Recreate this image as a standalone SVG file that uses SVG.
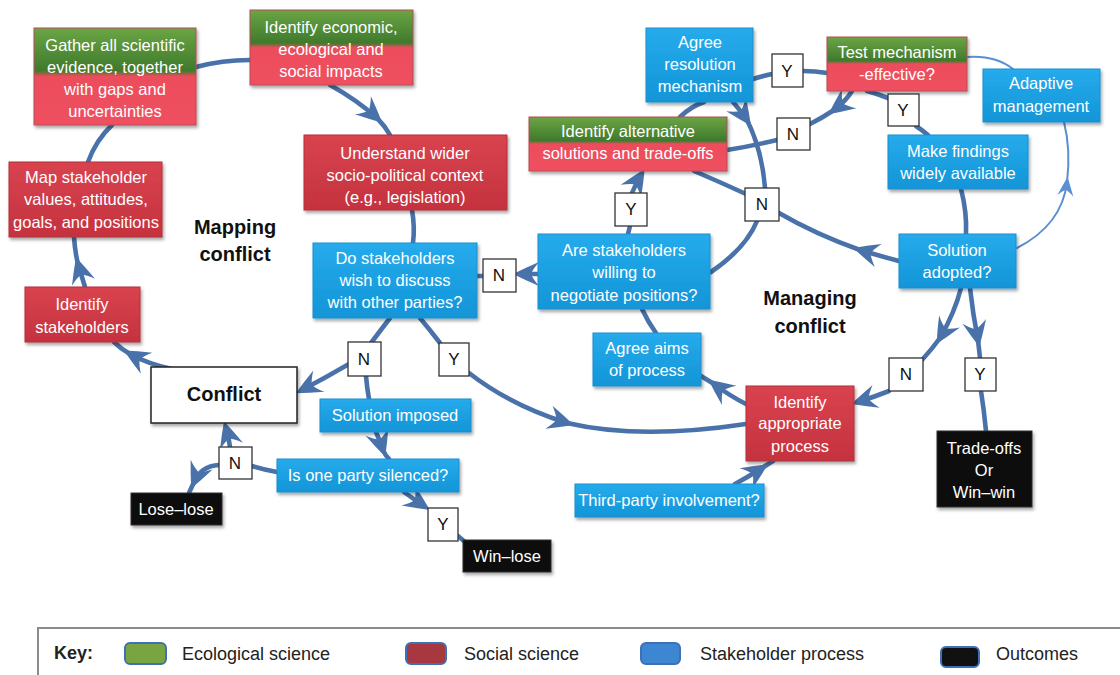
<svg xmlns="http://www.w3.org/2000/svg" width="1120" height="675" viewBox="0 0 1120 675">
<defs>
<style>
.c{fill:none;stroke:#4a72aa;stroke-width:4.6;stroke-linecap:round}
.a{marker-end:url(#ah)}
.th{fill:none;stroke:#5b8ed2;stroke-width:2;stroke-linecap:round}
.ta{marker-end:url(#ahs)}
.nt{font-family:"Liberation Sans",Arial,sans-serif;font-size:16.5px;fill:#fff;text-anchor:middle}
.bl{fill:url(#gBlue);stroke:#1a8fd0;stroke-width:1;filter:url(#sh)}
.rd{fill:url(#gRed);stroke:#b52f3b;stroke-width:1;filter:url(#sh)}
.mx{fill:url(#gMix);stroke:#b84a52;stroke-width:1;filter:url(#sh)}
.bk{fill:#0b0b0b;stroke:#333;stroke-width:1;filter:url(#sh)}
.yn rect{fill:#fff;stroke:#333;stroke-width:1.3}
.yn text{font-family:"Liberation Sans",Arial,sans-serif;font-size:17px;fill:#111;text-anchor:middle}
.lbl{font-family:"Liberation Sans",Arial,sans-serif;font-size:20px;font-weight:bold;fill:#111;text-anchor:middle}
.key{font-family:"Liberation Sans",Arial,sans-serif;font-size:18px;fill:#222}
.sw{stroke:#3f6fb5;stroke-width:2}
</style>
<linearGradient id="gBlue" x1="0" y1="0" x2="0" y2="1"><stop offset="0" stop-color="#26abec"/><stop offset="1" stop-color="#1295d7"/></linearGradient>
<linearGradient id="gRed" x1="0" y1="0" x2="0" y2="1"><stop offset="0" stop-color="#d9434f"/><stop offset="1" stop-color="#c4323e"/></linearGradient>
<linearGradient id="gMix" x1="0" y1="0" x2="0" y2="1"><stop offset="0" stop-color="#6ba545"/><stop offset="0.44" stop-color="#3f7a2c"/><stop offset="0.5" stop-color="#ec4d5b"/><stop offset="1" stop-color="#ef5060"/></linearGradient>
<filter id="sh" x="-10%" y="-10%" width="130%" height="145%"><feDropShadow dx="1.5" dy="2.5" stdDeviation="1.8" flood-color="#000" flood-opacity="0.35"/></filter>
<marker id="ah" viewBox="-22 -13 30 26" refX="0" refY="0" markerWidth="30" markerHeight="26" markerUnits="userSpaceOnUse" orient="auto"><path d="M7 0 Q-5 -6 -19 -12 Q-13 -5 -11 0 Q-13 5 -19 12 Q-5 6 7 0 Z" fill="#4a72aa"/></marker>
<marker id="ahs" viewBox="-16 -9 22 18" refX="0" refY="0" markerWidth="22" markerHeight="18" markerUnits="userSpaceOnUse" orient="auto"><path d="M5 0 Q-4 -4 -14 -8 Q-9 -3 -8 0 Q-9 3 -14 8 Q-4 4 5 0 Z" fill="#5b8ed2"/></marker>
</defs>
<rect width="1120" height="675" fill="#fff"/>

<g id="connectors">
<path class="c a" d="M172 369 Q148 364 130 354"/>
<path class="c" d="M130 354 Q121 349 114 342"/>
<path class="c a" d="M85 287 Q81 274 78 264"/>
<path class="c" d="M78 264 Q75 252 74 237"/>
<path class="c" d="M88 162 Q96 140 112 125"/>
<path class="c" d="M196 67 Q222 60 250 60"/>
<path class="c a" d="M330 85 Q357 100 377 118"/>
<path class="c" d="M377 118 Q385 126 390 135"/>
<path class="c" d="M412 210 Q415 227 413 243"/>
<path class="c" d="M390 318 Q380 331 371 343"/>
<path class="c a" d="M349 364 Q325 378 302 390"/>
<path class="c" d="M366 376 Q367 388 369 399"/>
<path class="c a" d="M376 432 Q380 441 383 450"/>
<path class="c" d="M383 450 Q385 455 389 459"/>
<path class="c" d="M277 472 Q265 470 252 466"/>
<path class="c a" d="M230 447 Q229 438 226 428"/>
<path class="c a" d="M219 465 Q201 466 194 482"/>
<path class="c" d="M194 482 L189 493"/>
<path class="c a" d="M404 492 Q415 500 424 506"/>
<path class="c" d="M458 536 L465 542"/>
<path class="c" d="M420 318 Q430 330 440 343"/>
<path class="c a" d="M469 373 Q510 405 567 423"/>
<path class="c" d="M567 423 Q640 440 746 424"/>
<path class="c a" d="M538 274 L520 274"/>
<path class="c" d="M477 276 L483 276"/>
<path class="c" d="M628 234 L630 226"/>
<path class="c a" d="M632 193 Q636 183 641 175"/>
<path class="c" d="M680 117 Q690 107 704 102"/>
<path class="c" d="M753 79 Q762 76 772 74"/>
<path class="c" d="M803 71 Q815 71 827 73"/>
<path class="c" d="M867 91 Q878 94 888 98"/>
<path class="c" d="M916 126 Q922 130 928 135"/>
<path class="c a" d="M852 91 Q846 101 834 110"/>
<path class="c" d="M834 110 Q822 118 810 124"/>
<path class="c" d="M777 140 Q752 146 727 150"/>
<path class="c a" d="M733 102 Q740 110 747 120"/>
<path class="c" d="M747 120 Q762 150 765 188"/>
<path class="c" d="M757 221 Q746 248 711 272"/>
<path class="c a" d="M899 261 Q880 256 860 250"/>
<path class="c" d="M860 250 Q815 234 779 213"/>
<path class="c" d="M746 194 Q720 182 694 171"/>
<path class="c" d="M642 309 Q648 322 656 333"/>
<path class="c a" d="M746 404 Q730 396 714 384"/>
<path class="c" d="M714 384 L701 376"/>
<path class="c a" d="M961 288 Q955 312 940 338"/>
<path class="c" d="M940 338 Q932 349 922 360"/>
<path class="c a" d="M889 391 Q874 397 858 402"/>
<path class="c a" d="M970 288 Q973 315 978 340"/>
<path class="c" d="M978 340 L980 358"/>
<path class="c" d="M981 391 Q984 410 986 431"/>
<path class="c" d="M961 189 Q967 212 966 234"/>
<path class="c a" d="M735 484 Q748 477 762 468"/>
<path class="c" d="M762 468 L773 461"/>
<path class="th ta" d="M1017 248 Q1062 225 1067 182"/>
<path class="th" d="M1067 182 Q1071 150 1064 122"/>
<path class="th" d="M1013 69 Q995 55 967 57"/>
</g>

<g id="n-gather"><rect class="mx" x="34" y="28" width="162" height="97"/>
<text class="nt" x="115" y="51">Gather all scientific</text><text class="nt" x="115" y="73">evidence, together</text><text class="nt" x="115" y="95">with gaps and</text><text class="nt" x="115" y="117">uncertainties</text></g>
<g id="n-impacts"><rect class="mx" x="250" y="10" width="163" height="75"/>
<text class="nt" x="331" y="33">Identify economic,</text><text class="nt" x="331" y="55">ecological and</text><text class="nt" x="331" y="77">social impacts</text></g>
<g id="n-context"><rect class="rd" x="304" y="135" width="203" height="75"/>
<text class="nt" x="405" y="159">Understand wider</text><text class="nt" x="405" y="181">socio-political context</text><text class="nt" x="405" y="203">(e.g., legislation)</text></g>
<g id="n-map"><rect class="rd" x="9" y="162" width="153" height="75"/>
<text class="nt" x="86" y="183">Map stakeholder</text><text class="nt" x="86" y="205">values, attitudes,</text><text class="nt" x="86" y="228">goals, and positions</text></g>
<g id="n-idstake"><rect class="rd" x="25" y="287" width="115" height="55"/>
<text class="nt" x="82" y="310">Identify</text><text class="nt" x="82" y="333">stakeholders</text></g>
<g id="n-conflict"><rect x="151" y="367" width="146" height="56" fill="#fff" stroke="#222" stroke-width="1.5" filter="url(#sh)"/>
<text class="lbl" x="224" y="401" font-size="21">Conflict</text></g>
<g id="n-discuss"><rect class="bl" x="313" y="243" width="164" height="75"/>
<text class="nt" x="395" y="264">Do stakeholders</text><text class="nt" x="395" y="286">wish to discuss</text><text class="nt" x="395" y="308">with other parties?</text></g>
<g id="n-imposed"><rect class="bl" x="320" y="399" width="151" height="33"/>
<text class="nt" x="395" y="421">Solution imposed</text></g>
<g id="n-silenced"><rect class="bl" x="277" y="459" width="182" height="33"/>
<text class="nt" x="368" y="481">Is one party silenced?</text></g>
<g id="n-loselose"><rect class="bk" x="131" y="493" width="91" height="32"/>
<text class="nt" x="176" y="515">Lose–lose</text></g>
<g id="n-winlose"><rect class="bk" x="463" y="540" width="88" height="32"/>
<text class="nt" x="507" y="562">Win–lose</text></g>
<g id="n-agree"><rect class="bl" x="646" y="28" width="107" height="74"/>
<text class="nt" x="700" y="48">Agree</text><text class="nt" x="700" y="70">resolution</text><text class="nt" x="700" y="92">mechanism</text></g>
<g id="n-test"><rect class="mx" x="827" y="37" width="140" height="54"/>
<text class="nt" x="897" y="58">Test mechanism</text><text class="nt" x="897" y="80">-effective?</text></g>
<g id="n-adaptive"><rect class="bl" x="983" y="69" width="117" height="53"/>
<text class="nt" x="1041" y="89">Adaptive</text><text class="nt" x="1041" y="112">management</text></g>
<g id="n-alternative"><rect class="mx" x="529" y="117" width="198" height="54"/>
<text class="nt" x="628" y="137">Identify alternative</text><text class="nt" x="628" y="159">solutions and trade-offs</text></g>
<g id="n-findings"><rect class="bl" x="888" y="135" width="140" height="54"/>
<text class="nt" x="958" y="157">Make findings</text><text class="nt" x="958" y="179">widely available</text></g>
<g id="n-negotiate"><rect class="bl" x="538" y="234" width="172" height="75"/>
<text class="nt" x="624" y="256">Are stakeholders</text><text class="nt" x="624" y="278">willing to</text><text class="nt" x="624" y="301">negotiate positions?</text></g>
<g id="n-adopted"><rect class="bl" x="899" y="234" width="117" height="54"/>
<text class="nt" x="957" y="256">Solution</text><text class="nt" x="957" y="278">adopted?</text></g>
<g id="n-aims"><rect class="bl" x="593" y="333" width="108" height="53"/>
<text class="nt" x="647" y="354">Agree aims</text><text class="nt" x="647" y="376">of process</text></g>
<g id="n-appropriate"><rect class="rd" x="746" y="386" width="108" height="75"/>
<text class="nt" x="800" y="408">Identify</text><text class="nt" x="800" y="429">appropriate</text><text class="nt" x="800" y="452">process</text></g>
<g id="n-tradeoffs"><rect class="bk" x="937" y="431" width="95" height="76"/>
<text class="nt" x="984" y="454">Trade-offs</text><text class="nt" x="984" y="476">Or</text><text class="nt" x="984" y="498">Win–win</text></g>
<g id="n-thirdparty"><rect class="bl" x="575" y="484" width="189" height="33"/>
<text class="nt" x="669" y="506">Third-party involvement?</text></g>

<g id="yn" class="yn">
<g id="y1"><rect x="772" y="54" width="31" height="33"/><text x="787" y="77">Y</text></g>
<g id="y2"><rect x="888" y="94" width="31" height="32"/><text x="903" y="116">Y</text></g>
<g id="n1"><rect x="777" y="118" width="33" height="32"/><text x="793" y="140">N</text></g>
<g id="y3"><rect x="615" y="193" width="32" height="33"/><text x="631" y="215">Y</text></g>
<g id="n2"><rect x="745" y="188" width="34" height="33"/><text x="762" y="210">N</text></g>
<g id="n3"><rect x="483" y="259" width="33" height="33"/><text x="499" y="281">N</text></g>
<g id="n4"><rect x="348" y="342" width="33" height="34"/><text x="364" y="365">N</text></g>
<g id="y4"><rect x="439" y="343" width="30" height="33"/><text x="454" y="365">Y</text></g>
<g id="n5"><rect x="219" y="447" width="33" height="32"/><text x="235" y="469">N</text></g>
<g id="y5"><rect x="428" y="508" width="30" height="33"/><text x="443" y="530">Y</text></g>
<g id="n6"><rect x="889" y="358" width="34" height="33"/><text x="906" y="380">N</text></g>
<g id="y6"><rect x="965" y="358" width="31" height="33"/><text x="980" y="380">Y</text></g>
</g>

<g id="labels">
<text class="lbl" x="235" y="234">Mapping</text><text class="lbl" x="235" y="261">conflict</text>
<text class="lbl" x="810" y="305">Managing</text><text class="lbl" x="810" y="333">conflict</text>
</g>

<g id="key">
<rect x="38" y="628" width="1100" height="60" fill="#fff" stroke="#8c8c8c" stroke-width="2"/>
<text class="key" x="54" y="659" font-weight="bold">Key:</text>
<rect class="sw" x="125" y="643" width="41" height="21" rx="5" fill="#78a442"/>
<text class="key" x="182" y="660">Ecological science</text>
<rect class="sw" x="406" y="643" width="40" height="21" rx="5" fill="#a8383f"/>
<text class="key" x="464" y="660">Social science</text>
<rect class="sw" x="641" y="643" width="39" height="21" rx="5" fill="#3c86d2"/>
<text class="key" x="700" y="660">Stakeholder process</text>
<rect class="sw" x="941" y="647" width="38" height="20" rx="5" fill="#111"/>
<text class="key" x="996" y="660">Outcomes</text>
</g>
</svg>
